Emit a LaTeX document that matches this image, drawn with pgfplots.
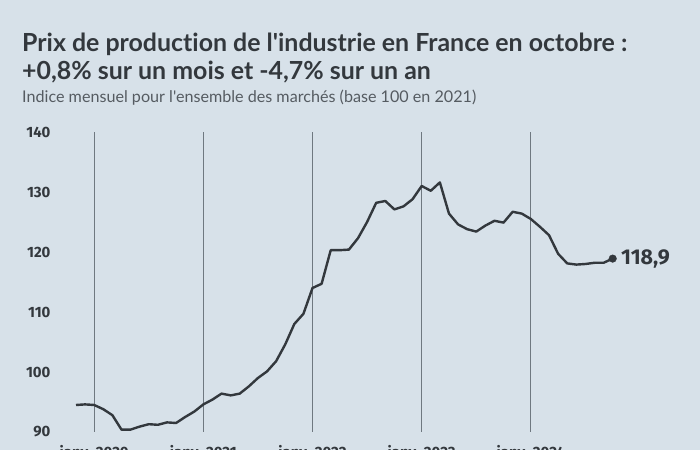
\documentclass[border=0pt]{standalone}
\usepackage{fontspec}
\setmainfont{Fira Sans}
\newfontfamily\titlefont{Lato}[Ligatures=NoCommon]
\usepackage{pgfplots}
\pgfplotsset{compat=1.18}
\definecolor{bg}{HTML}{D7E1E9}
\definecolor{ink}{HTML}{33383D}
\definecolor{gridc}{HTML}{6F7880}
\definecolor{sub}{HTML}{555B61}

\begin{document}
\begin{tikzpicture}[x=1bp,y=1bp]
\fill[bg] (0,0) rectangle (700,450);
\useasboundingbox (0,0) rectangle (700,450);
\node[anchor=base west, inner sep=0, text=ink, font=\titlefont\fontsize{25}{28}\selectfont\bfseries] at (22,398) {Prix de production de l'industrie en France en octobre :};
\node[anchor=base west, inner sep=0, text=ink, font=\titlefont\fontsize{25}{28}\selectfont\bfseries] at (22,370) {+0,8\% sur un mois et -4,7\% sur un an};
\node[anchor=base west, inner sep=0, text=sub, font=\titlefont\fontsize{16.2}{19}\selectfont] at (22,347) {Indice mensuel pour l'ensemble des marchés (base 100 en 2021)};

\begin{axis}[
    at={(76bp,18bp)}, anchor=south west,
    scale only axis,
    width=536.7bp, height=300bp,
    xmin=-2, xmax=57,
    ymin=90, ymax=140,
    clip=false,
    axis line style={draw=none},
    major tick length=0,
    xtick={0,12,24,36,48},
    xticklabels={janv. 2020, janv. 2021, janv. 2022, janv. 2023, janv. 2024},
    ytick={90,100,110,120,130,140},
    xmajorgrids,
    grid style={gridc, line width=0.9bp},
    /pgf/number format/assume math mode=true,
    ticklabel style={font=\fontsize{15}{16}\selectfont\bfseries, text=ink},
    yticklabel style={xshift=-22bp},
    xticklabel style={yshift=-10bp},
]
\addplot[ink, line width=2.4bp, line join=round] coordinates {
(-2,94.5) (-1,94.6) (0,94.5) (1,93.8) (2,92.8) (3,90.4) (4,90.4) (5,90.9)
(6,91.3) (7,91.2) (8,91.6) (9,91.5) (10,92.5) (11,93.4) (12,94.6) (13,95.4)
(14,96.4) (15,96.1) (16,96.4) (17,97.6) (18,99.0) (19,100.1) (20,101.8) (21,104.6)
(22,108.0) (23,109.7) (24,114.0) (25,114.7) (26,120.3) (27,120.3) (28,120.4) (29,122.3)
(30,125.0) (31,128.2) (32,128.5) (33,127.1) (34,127.6) (35,128.8) (36,131.0) (37,130.2)
(38,131.6) (39,126.4) (40,124.6) (41,123.8) (42,123.4) (43,124.4) (44,125.2) (45,124.9)
(46,126.7) (47,126.4) (48,125.5) (49,124.2) (50,122.8) (51,119.7) (52,118.1) (53,117.9)
(54,118.0) (55,118.2) (56,118.2) (57,118.9)
};
\addplot[only marks, mark=*, mark size=3.8bp, ink] coordinates {(57,118.9)}
  node[right=5bp, text=ink, font=\fontsize{21.5}{23}\selectfont\bfseries] {118,9};
\end{axis}
\end{tikzpicture}
\end{document}
